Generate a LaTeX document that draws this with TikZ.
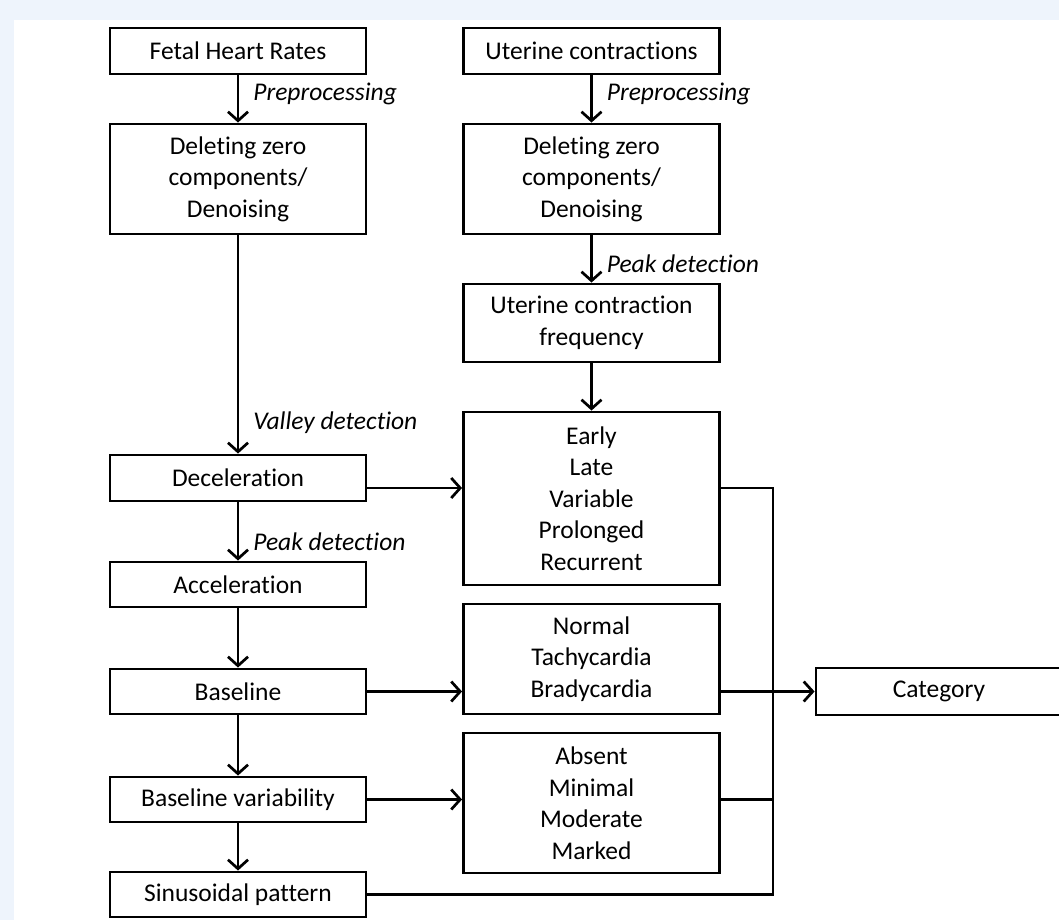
\documentclass[tikz,border=0pt]{standalone}
\usepackage{fontspec}
\setmainfont{Carlito}[Ligatures=NoCommon]
\usetikzlibrary{arrows.meta}
\definecolor{bgblue}{RGB}{238,244,252}
\newcommand{\boxfont}{\fontsize{25.5}{31.5}\selectfont}
\tikzset{
  box/.style={draw, line width=2.9pt, align=center, inner sep=0pt, minimum width=256pt, font=\boxfont},
  arr/.style={line width=2.7pt, -{Straight Barb[length=9pt,width=20pt]}},
  wire/.style={line width=2.7pt},
  lab/.style={right, inner sep=0pt, xshift=14pt, font=\boxfont\itshape}
}
\begin{document}
\begin{tikzpicture}[x=1pt,y=-1pt]
\useasboundingbox (0,0) rectangle (1059,920);
\fill[bgblue] (0,0) rectangle (1059,920);
\fill[white] (14,20) rectangle (1059,920);

% fetal heart rate column
\node[box, minimum height=46pt] (fhr) at (238,51) {Fetal Heart Rates};
\node[box, minimum height=110pt] (delL) at (238,179) {Deleting zero\\components/\\Denoising};
\node[box, minimum height=46pt] (decel) at (238,478) {Deceleration};
\node[box, minimum height=45pt] (accel) at (238,584.5) {Acceleration};
\node[box, minimum height=45pt] (base) at (238,691.5) {Baseline};
\node[box, minimum height=45pt] (bvar) at (238,799.5) {Baseline variability};
\node[box, minimum height=45pt] (sinus) at (238,894.5) {Sinusoidal pattern};

% uterine contraction column
\node[box, minimum height=46pt] (uc) at (591.5,51) {Uterine contractions};
\node[box, minimum height=110pt] (delR) at (591.5,179) {Deleting zero\\components/\\Denoising};
\node[box, minimum height=78pt] (ucf) at (591.5,323) {Uterine contraction\\frequency};
\node[box, minimum height=173pt] (dectype) at (591.5,498.5) {Early\\Late\\Variable\\Prolonged\\Recurrent};
\node[box, minimum height=110pt] (rate) at (591.5,659) {Normal\\Tachycardia\\Bradycardia};
\node[box, minimum height=140pt] (vartype) at (591.5,803) {Absent\\Minimal\\Moderate\\Marked};

\node[box, minimum width=246pt, minimum height=47pt] (cat) at (939,691.5) {Category};
\coordinate (bus) at (773,0);

% arrows
\draw[arr] (fhr) -- node[lab, pos=0.4] {Preprocessing} (delL);
\draw[arr] (delL) -- node[lab, pos=0.86] {Valley detection} (decel);
\draw[arr] (decel) -- node[lab, pos=0.67] {Peak detection} (accel);
\draw[arr] (accel) -- (base);
\draw[arr] (base) -- (bvar);
\draw[arr] (bvar) -- (sinus);

\draw[arr] (uc) -- node[lab, pos=0.4] {Preprocessing} (delR);
\draw[arr] (delR) -- node[lab, pos=0.6] {Peak detection} (ucf);
\draw[arr] (ucf) -- (dectype);

\draw[arr] ([yshift=-10pt]decel.east) -- ([yshift=-10pt]decel.east -| dectype.west);
\draw[arr] (base.east) -- (base.east -| rate.west);
\draw[arr] (bvar.east) -- (bvar.east -| vartype.west);

% collecting line
\draw[wire] ([yshift=-10pt]decel.east -| dectype.east) -| (bus |- sinus.east) -- (sinus.east);
\draw[wire] (bvar.east -| vartype.east) -- (bvar.east -| bus);
\draw[arr] (base.east -| rate.east) -- (base.east -| cat.west);
\end{tikzpicture}
\end{document}
